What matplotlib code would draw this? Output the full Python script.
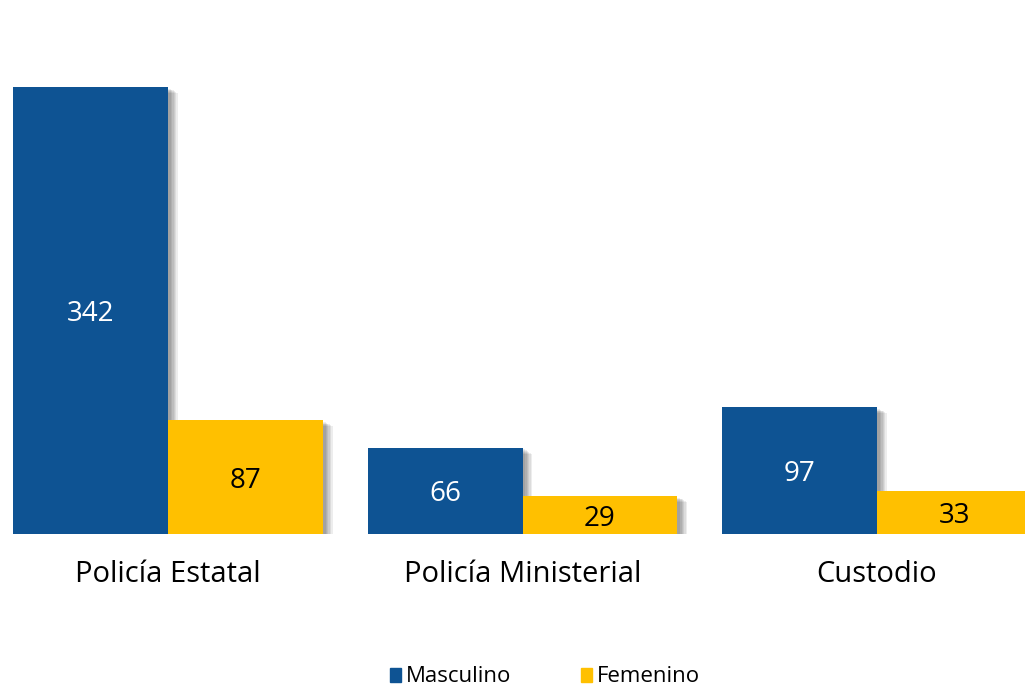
import matplotlib
matplotlib.use("Agg")
import matplotlib.pyplot as plt
import matplotlib.patheffects as pe
import matplotlib.transforms as mtransforms
from matplotlib.patches import Patch
import numpy as np

categories = ["Policía Estatal", "Policía Ministerial", "Custodio"]
masculino = [342, 66, 97]
femenino = [87, 29, 33]
series_names = ["Masculino", "Femenino"]

blue = "#0E5393"
yellow = "#FFC000"

plt.rcParams['font.family'] = ['Open Sans', 'DejaVu Sans']

fig = plt.figure(figsize=(10.25, 6.89), dpi=100)
ax = fig.add_axes([0, 155/689, 1, 534/689])

x = np.arange(len(categories))
w = 0.437

shadow = [pe.SimplePatchShadow(offset=(o, -o*0.6), shadow_rgbFace='black', alpha=0.07) for o in (2, 3, 4, 5, 6, 7)] + [pe.Normal()]

b1 = ax.bar(x - w/2, masculino, w, color=blue, zorder=2)
b2 = ax.bar(x + w/2, femenino, w, color=yellow, zorder=3)
for b in list(b1) + list(b2):
    b.set_path_effects(shadow)

txt_tr = mtransforms.offset_copy(ax.transData, fig=fig, x=0, y=-2.5, units='points')
for xi, v in zip(x - w/2, masculino):
    ax.text(xi, v/2, str(v), ha='center', va='center', color='white', fontsize=20, zorder=5, transform=txt_tr)
for xi, v in zip(x + w/2, femenino):
    ax.text(xi, v/2, str(v), ha='center', va='center', color='black', fontsize=20, zorder=5, transform=txt_tr)

ax.set_xlim(-168/354.5, (1025-168)/354.5)
ax.set_ylim(0, 534/1.307)
ax.set_xticks(x)
ax.set_xticklabels(categories, fontsize=21)
ax.tick_params(axis='x', length=0, pad=19)
ax.set_yticks([])
for s in ax.spines.values():
    s.set_visible(False)

handles = [Patch(color=blue), Patch(color=yellow)]
fig.legend(handles, series_names, loc='center', bbox_to_anchor=(545/1025, 1-677/689), ncol=2,
           frameon=False, fontsize=16, handlelength=0.5, handleheight=0.6, handletextpad=0.25,
           columnspacing=3.1, borderpad=0.2)

fig.savefig("out.png", dpi=100)
